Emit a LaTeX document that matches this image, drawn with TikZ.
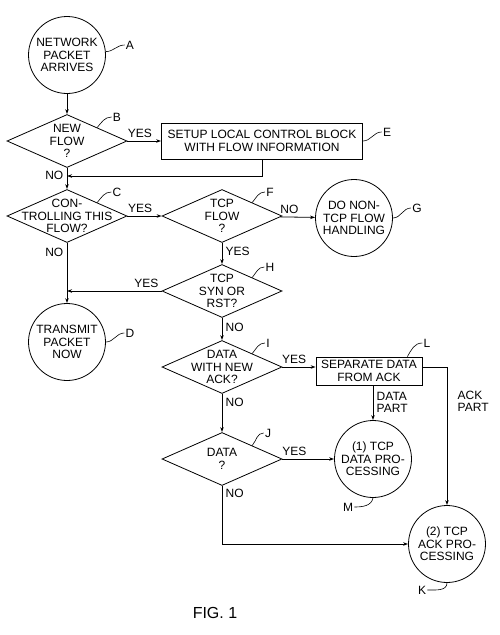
\documentclass[tikz,border=0pt]{standalone}
\usepackage{fontspec}
\setmainfont{Liberation Sans}
\usetikzlibrary{shapes.geometric,arrows.meta}

\begin{document}
\begin{tikzpicture}[x=1pt,y=-1pt,>={Stealth[length=5pt,width=3.5pt]},line width=0.8pt,font=\fontsize{12}{12.5}\selectfont]
\tikzstyle{term}=[draw,shape=circle,inner sep=0pt,minimum size=77pt,align=center]
\tikzstyle{dia}=[draw,shape=diamond,inner sep=0pt,minimum width=120pt,minimum height=53pt]
\tikzstyle{txt}=[inner sep=0pt,align=center]
\tikzstyle{proc}=[draw,shape=rectangle,inner sep=0pt,align=center]
\tikzstyle{tag}=[inner sep=1pt]
\tikzstyle{lead}=[line width=0.6pt]
\useasboundingbox (0,0) rectangle (500,635);

% blocks
\path (67,55) node[term](A){NETWORK\\PACKET\\ARRIVES};
\path (67,141) node[dia](B){} node[txt](Bt){NEW\\FLOW\\?};
\path (262,141) node[proc,minimum width=201pt,minimum height=36pt](E){SETUP LOCAL CONTROL BLOCK\\WITH FLOW INFORMATION};
\path (67,216) node[dia](C){} node[txt](Ct){CON-\\TROLLING THIS\\FLOW?};
\path (222,216) node[dia](F){} node[txt](Ft){TCP\\FLOW\\?};
\path (354,218) node[term](G){DO NON-\\TCP FLOW\\HANDLING};
\path (67,342) node[term](D){TRANSMIT\\PACKET\\NOW};
\path (222,291) node[dia](H){} node[txt](Ht){TCP\\SYN OR\\RST?};
\path (222,367) node[dia](I){} node[txt](It){DATA\\WITH NEW\\ACK?};
\path (369,371) node[proc,minimum width=106pt,minimum height=28pt](L){SEPARATE DATA\\FROM ACK};
\path (222,459) node[dia](J){} node[txt](Jt){DATA\\?};
\path (373,459) node[term](M){(1) TCP\\DATA PRO-\\CESSING};
\path (447,544) node[term](K){(2) TCP\\ACK PRO-\\CESSING};
\coordinate (nj) at (67,176);

% reference letters
\path (130,45) node[tag](lA){A} (117,117) node[tag](lB){B} (117,192) node[tag](lC){C} (130,333) node[tag](lD){D};
\path (387,132) node[tag](lE){E} (270,192) node[tag](lF){F} (417,208) node[tag](lG){G} (270,267) node[tag](lH){H};
\path (268,343) node[tag](lI){I} (268,433) node[tag](lJ){J} (427,343) node[tag](lL){L};
\path (348,507) node[tag](lM){M} (422,590) node[tag](lK){K};
\draw[lead] (A.5) to[out=0,in=180] (lA.west);
\draw[lead] (B.north east) to[out=50,in=180] (lB.west);
\draw[lead] (C.north east) to[out=50,in=180] (lC.west);
\draw[lead] (D.east) to[out=0,in=180] (lD.west);
\draw[lead] (E.east) to[out=0,in=180] (lE.west);
\draw[lead] (F.north east) to[out=50,in=180] (lF.west);
\draw[lead] (G.east) to[out=0,in=180] (lG.west);
\draw[lead] (H.north east) to[out=50,in=180] (lH.west);
\draw[lead] (I.north east) to[out=50,in=180] (lI.west);
\draw[lead] (J.north east) to[out=50,in=180] (lJ.west);
\draw[lead] ([xshift=-15pt]L.north east) to[out=60,in=180] (lL.west);
\draw[lead] (lM.east) to[out=0,in=-100] (M.south);
\draw[lead] (lK.east) to[out=0,in=-90] (K.south);

% flow
\draw[->] (A) -- (B);
\draw[->] (B) -- node[pos=0.37,above]{YES} (E);
\draw[->] (B) -- node[pos=0.35,left]{NO} (C);
\draw[->] (E.south) |- (nj);
\draw[->] (C) -- node[pos=0.37,above]{YES} (F);
\draw[->] (F) -- node[pos=0.26,above]{NO} (G);
\draw[->] (F) -- node[pos=0.41,right]{YES} (H);
\draw[->] (C) -- node[pos=0.15,left]{NO} (D);
\draw[->] (H.west) -- node[pos=0.16,above]{YES} (H.west -| C.south);
\draw[->] (H) -- node[pos=0.42,right]{NO} (I);
\draw[->] (I.east) -- node[pos=0.35,above]{YES} (I.east -| L.west);
\draw[->] (M.north |- L.south) -- node[pos=0.49,right,align=left]{DATA\\PART} (M.north);
\draw[->] (L.east |- I.east) -| node[pos=0.625,right=7pt,align=left]{ACK\\PART} (K.north);
\draw[->] (I) -- node[pos=0.23,right]{NO} (J);
\draw[->] (J) -- node[pos=0.23,above]{YES} (M);
\draw[->] (J.south) |- node[pos=0.064,right]{NO} (K.west);

\path (215,613) node[font=\fontsize{16}{18}\selectfont](fig){FIG. 1};
\end{tikzpicture}
\end{document}
